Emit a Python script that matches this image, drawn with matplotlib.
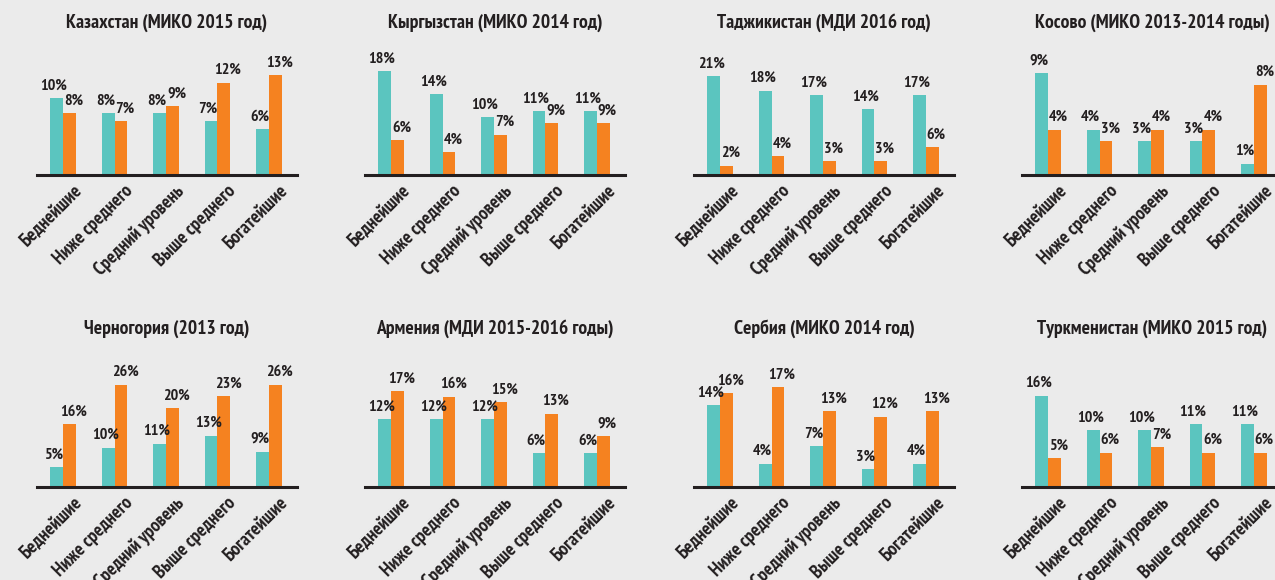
import numpy as np
import matplotlib
matplotlib.use("Agg")
import matplotlib.pyplot as plt
from matplotlib import font_manager

# datos de cada pais
titulos = ["Казахстан (МИКО 2015 год)", "Кыргызстан (МИКО 2014 год)",
           "Таджикистан (МДИ 2016 год)", "Косово (МИКО 2013-2014 годы)",
           "Черногория (2013 год)", "Армения (МДИ 2015-2016 годы)",
           "Сербия (МИКО 2014 год)", "Туркменистан (МИКО 2015 год)"]
categorias = ["Беднейшие", "Ниже среднего", "Средний уровень", "Выше среднего", "Богатейшие"]

kaz_teal = [10, 8, 8, 7, 6]
kaz_orange = [8, 7, 9, 12, 13]
kgz_teal = [18, 14, 10, 11, 11]
kgz_orange = [6, 4, 7, 9, 9]
tjk_teal = [21, 18, 17, 14, 17]
tjk_orange = [2, 4, 3, 3, 6]
kos_teal = [9, 4, 3, 3, 1]
kos_orange = [4, 3, 4, 4, 8]
mne_teal = [5, 10, 11, 13, 9]
mne_orange = [16, 26, 20, 23, 26]
arm_teal = [12, 12, 12, 6, 6]
arm_orange = [17, 16, 15, 13, 9]
srb_teal = [14, 4, 7, 3, 4]
srb_orange = [16, 17, 13, 12, 13]
tkm_teal = [16, 10, 10, 11, 11]
tkm_orange = [5, 6, 7, 6, 6]

teal = [kaz_teal, kgz_teal, tjk_teal, kos_teal, mne_teal, arm_teal, srb_teal, tkm_teal]
orange = [kaz_orange, kgz_orange, tjk_orange, kos_orange, mne_orange, arm_orange, srb_orange, tkm_orange]

# cada grafico tiene su propia escala
ymax = [16.9, 22.5, 27.7, 11.5, 33.0, 23.0, 22.2, 22.8]

C_TEAL = "#5bc5bf"
C_ORANGE = "#f58220"
FONDO = "#ebebeb"
TINTA = "#231f20"

# buscar una fuente estrecha que exista
candidatas = ["PT Sans Narrow", "Fira Sans Extra Condensed", "Roboto Condensed",
              "Open Sans Condensed", "Ubuntu Condensed", "Encode Sans Condensed",
              "Liberation Sans Narrow"]
fuente = "DejaVu Sans"
for c in candidatas:
    try:
        font_manager.findfont(font_manager.FontProperties(family=c, weight="bold"),
                              fallback_to_default=False)
        fuente = c
        break
    except ValueError:
        pass
familia = [fuente, "DejaVu Sans"]

fig = plt.figure(figsize=(12.75, 5.8), dpi=100, facecolor=FONDO)

W, H = 1275, 580
lefts = [37, 365, 694, 1022]
bases = [175, 487]
alto = 130
ancho = 260

x = np.arange(len(categorias))
bw = 0.25

for i in range(8):
    fila = i // 4
    col = i % 4
    ax = fig.add_axes([lefts[col] / W, 1 - bases[fila] / H, ancho / W, alto / H])
    ax.set_facecolor(FONDO)

    b1 = ax.bar(x - bw / 2, teal[i], bw, color=C_TEAL)
    b2 = ax.bar(x + bw / 2, orange[i], bw, color=C_ORANGE)

    for r, v in zip(b1, teal[i]):
        ax.annotate(f"{v}%", (r.get_x() + r.get_width() / 2, v), xytext=(-2, 4),
                    textcoords="offset points", ha="center", va="bottom",
                    fontsize=11.5, fontweight="bold", family=familia, color=TINTA)
    for r, v in zip(b2, orange[i]):
        ax.annotate(f"{v}%", (r.get_x() + r.get_width() / 2, v), xytext=(3, 4),
                    textcoords="offset points", ha="center", va="bottom",
                    fontsize=11.5, fontweight="bold", family=familia, color=TINTA)

    ax.set_xlim(-0.51, 4.55)
    ax.set_ylim(0, ymax[i])
    ax.set_yticks([])
    ax.set_xticks(x + 0.18)
    ax.set_xticklabels(categorias, rotation=45, ha="right", va="top",
                       rotation_mode="anchor", fontsize=13.5, fontweight="bold",
                       family=familia, color=TINTA)
    ax.tick_params(axis="x", length=0, pad=5)
    for s in ["top", "left", "right"]:
        ax.spines[s].set_visible(False)
    ax.spines["bottom"].set_linewidth(2.2)
    ax.spines["bottom"].set_color(TINTA)

    ax.set_title(titulos[i], fontsize=14, fontweight="bold", family=familia,
                 color=TINTA, pad=12.5 if fila == 0 else 16.5)

fig.savefig("out.png", dpi=100, facecolor=FONDO)
